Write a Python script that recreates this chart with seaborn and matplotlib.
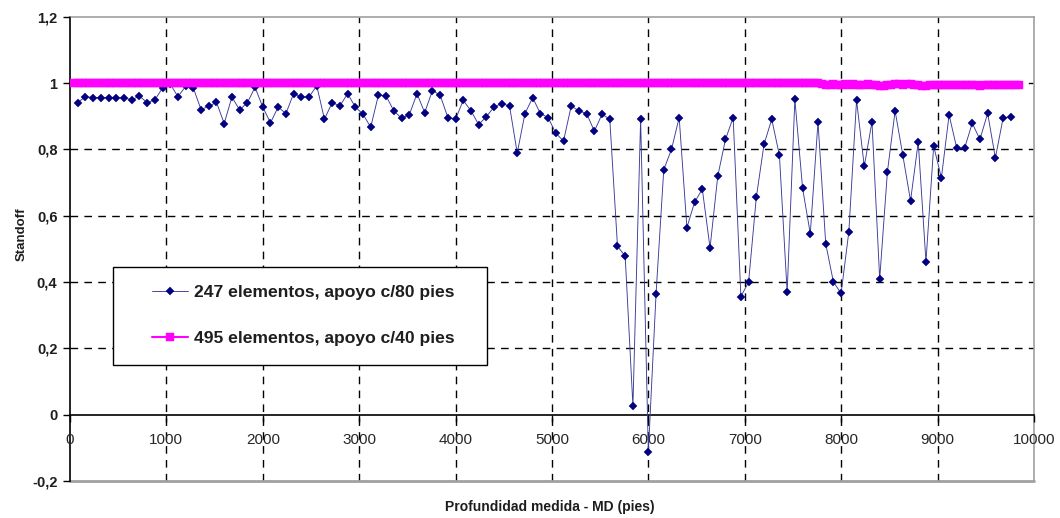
import matplotlib
matplotlib.use("Agg")
import matplotlib.pyplot as plt
import seaborn as sns
import pandas as pd
from matplotlib.patches import Rectangle

# ---------------- data ----------------
series_labels = ["247 elementos, apoyo c/80 pies", "495 elementos, apoyo c/40 pies"]

# standoff every 80 ft (first point at 80 ft)
standoff_80 = [
    0.941, 0.959, 0.956, 0.956, 0.956, 0.956, 0.956, 0.949, 0.961, 0.941,
    0.949, 0.985, 0.997, 0.959, 0.990, 0.985, 0.920, 0.930, 0.942, 0.878,
    0.958, 0.919, 0.941, 0.987, 0.928, 0.880, 0.928, 0.908, 0.968, 0.958,
    0.958, 0.992, 0.891, 0.941, 0.931, 0.968, 0.928, 0.906, 0.867, 0.964,
    0.961, 0.916, 0.894, 0.904, 0.968, 0.911, 0.977, 0.964, 0.896, 0.891,
    0.948, 0.916, 0.875, 0.899, 0.928, 0.938, 0.931, 0.789, 0.908, 0.956,
    0.908, 0.896, 0.849, 0.825, 0.931, 0.916, 0.908, 0.855, 0.906, 0.891,
    0.508, 0.478, 0.026, 0.891, -0.113, 0.364, 0.739, 0.800, 0.896, 0.564,
    0.641, 0.680, 0.503, 0.719, 0.830, 0.896, 0.356, 0.400, 0.655, 0.815,
    0.891, 0.782, 0.369, 0.951, 0.683, 0.546, 0.883, 0.516, 0.400, 0.366,
    0.552, 0.948, 0.749, 0.883, 0.409, 0.732, 0.916, 0.782, 0.645, 0.822,
    0.461, 0.810, 0.714, 0.904, 0.803, 0.803, 0.879, 0.830, 0.909, 0.774,
    0.894, 0.899,
]

# standoff every 40 ft (first point at 40 ft)
standoff_40 = [
    1.0, 1.0, 1.0, 1.0, 1.0, 1.0, 1.0, 1.0, 1.0, 1.0, 1.0, 1.0, 1.0, 1.0, 1.0,
    1.0, 1.0, 1.0, 1.0, 1.0, 1.0, 1.0, 1.0, 1.0, 1.0, 1.0, 1.0, 1.0, 1.0, 1.0,
    1.0, 1.0, 1.0, 1.0, 1.0, 1.0, 1.0, 1.0, 1.0, 1.0, 1.0, 1.0, 1.0, 1.0, 1.0,
    1.0, 1.0, 1.0, 1.0, 1.0, 1.0, 1.0, 1.0, 1.0, 1.0, 1.0, 1.0, 1.0, 1.0, 1.0,
    1.0, 1.0, 1.0, 1.0, 1.0, 1.0, 1.0, 1.0, 1.0, 1.0, 1.0, 1.0, 1.0, 1.0, 1.0,
    1.0, 1.0, 1.0, 1.0, 1.0, 1.0, 1.0, 1.0, 1.0, 1.0, 1.0, 1.0, 1.0, 1.0, 1.0,
    1.0, 1.0, 1.0, 1.0, 1.0, 1.0, 1.0, 1.0, 1.0, 1.0, 1.0, 1.0, 1.0, 1.0, 1.0,
    1.0, 1.0, 1.0, 1.0, 1.0, 1.0, 1.0, 1.0, 1.0, 1.0, 1.0, 1.0, 1.0, 1.0, 1.0,
    1.0, 1.0, 1.0, 1.0, 1.0, 1.0, 1.0, 1.0, 1.0, 1.0, 1.0, 1.0, 1.0, 1.0, 1.0,
    1.0, 1.0, 1.0, 1.0, 1.0, 1.0, 1.0, 1.0, 1.0, 1.0, 1.0, 1.0, 1.0, 1.0, 1.0,
    1.0, 1.0, 1.0, 1.0, 1.0, 1.0, 1.0, 1.0, 1.0, 1.0, 1.0, 1.0, 1.0, 1.0, 1.0,
    1.0, 1.0, 1.0, 1.0, 1.0, 1.0, 1.0, 1.0, 1.0, 1.0, 1.0, 1.0, 1.0, 1.0, 1.0,
    1.0, 1.0, 1.0, 1.0, 1.0, 1.0, 1.0, 1.0, 1.0, 1.0, 1.0, 1.0, 1.0, 1.0,
    0.996, 0.995, 0.995, 0.996, 0.995, 0.995, 0.996, 0.995, 0.996, 0.995,
    0.994, 0.995, 0.996, 0.995, 0.993, 0.992, 0.991, 0.994, 0.995, 0.997,
    0.996, 0.994, 0.996, 0.997, 0.993, 0.993, 0.992, 0.992, 0.993, 0.995,
    0.994, 0.994, 0.995, 0.994, 0.994, 0.995, 0.994, 0.994, 0.995, 0.994,
    0.993, 0.992, 0.994, 0.995, 0.994, 0.994, 0.994, 0.994, 0.993, 0.993,
    0.994, 0.993,
]

depth_80 = list(range(80, 80 * (len(standoff_80) + 1), 80))
depth_40 = list(range(40, 40 * (len(standoff_40) + 1), 40))

x_ticks = [0, 1000, 2000, 3000, 4000, 5000, 6000, 7000, 8000, 9000, 10000]
x_tick_labels = ["0", "1000", "2000", "3000", "4000", "5000", "6000", "7000", "8000", "9000", "10000"]
y_ticks = [-0.2, 0.0, 0.2, 0.4, 0.6, 0.8, 1.0, 1.2]
y_tick_labels = ["-0,2", "0", "0,2", "0,4", "0,6", "0,8", "1", "1,2"]
x_label = "Profundidad medida - MD (pies)"
y_label = "Standoff"

# ---------------- style ----------------
sns.set_theme(style="white")
plt.rcParams["font.family"] = ["Liberation Sans", "DejaVu Sans"]

BLUE = "#000080"
BLUE_LINE = "#3a3a98"
MAGENTA = "#FF00FF"
GRAY = "#A0A0A0"
TXT = "#1e1e1e"

fig = plt.figure(figsize=(10.6, 5.18), dpi=100)
fig.patch.set_facecolor("white")
ax = fig.add_axes([0.0660, 0.0714, 0.9094, 0.8963])
ax.set_facecolor("white")
ax.set_axisbelow(False)

df80 = pd.DataFrame({"depth": depth_80, "standoff": standoff_80})
df40 = pd.DataFrame({"depth": depth_40, "standoff": standoff_40})

sns.lineplot(data=df80, x="depth", y="standoff", ax=ax, estimator=None, sort=False,
             color=BLUE_LINE, linewidth=0.65, marker="D", markersize=4.3,
             markerfacecolor=BLUE, markeredgecolor=BLUE, markeredgewidth=0.3,
             label=series_labels[0], zorder=3)
sns.lineplot(data=df40, x="depth", y="standoff", ax=ax, estimator=None, sort=False,
             color=MAGENTA, linewidth=1.5, marker="s", markersize=5.5,
             markerfacecolor=MAGENTA, markeredgecolor=MAGENTA, markeredgewidth=0.3,
             label=series_labels[1], zorder=4)

ax.set_xlim(0, 10000)
ax.set_ylim(-0.2, 1.2)
ax.set_xticks(x_ticks)
ax.set_xticklabels(x_tick_labels)
ax.set_yticks(y_ticks)
ax.set_yticklabels(y_tick_labels)
for lbl in ax.get_xticklabels() + ax.get_yticklabels():
    lbl.set_fontweight("bold")
    lbl.set_fontsize(10.5)
    lbl.set_color(TXT)

# grid
for xv in x_ticks[1:-1]:
    ax.axvline(xv, color="black", lw=1.0, dashes=(5.5, 4.5), zorder=1)
for yv in y_ticks[2:-1]:
    ax.axhline(yv, color="black", lw=1.0, dashes=(5.5, 4.5), zorder=1)

# spines / frame
ax.spines["left"].set_color("black")
ax.spines["left"].set_linewidth(1.2)
ax.spines["bottom"].set_position(("data", 0))
ax.spines["bottom"].set_color("black")
ax.spines["bottom"].set_linewidth(1.2)
ax.spines["top"].set_color(GRAY)
ax.spines["top"].set_linewidth(1.2)
ax.spines["right"].set_color(GRAY)
ax.spines["right"].set_linewidth(1.2)
ax.axhline(-0.2, color=GRAY, lw=2.0, clip_on=False, zorder=2)

ax.tick_params(axis="x", direction="out", length=5, width=1, color="black", pad=8, bottom=True)
ax.tick_params(axis="y", direction="out", length=5, width=1, color="black", pad=4, left=True)

ax.set_xlabel("")
ax.set_ylabel("")
fig.text(0.519, 0.022, x_label, ha="center", va="center", fontsize=10, fontweight="bold", color=TXT)
fig.text(0.020, 0.548, y_label, ha="center", va="center", rotation=90, fontsize=9.5, fontweight="bold", color=TXT)

# legend box
rect = Rectangle((0.0446, 0.2498), 0.3880, 0.2111, transform=ax.transAxes,
                 facecolor="white", edgecolor="black", lw=1.0, zorder=5)
ax.add_patch(rect)
leg = ax.legend(loc="upper left", bbox_to_anchor=(0.0855, 0.423), frameon=False,
                borderpad=0, borderaxespad=0, handlelength=2.05, handletextpad=0.3,
                labelspacing=1.78, prop={"size": 12.6, "weight": "bold"})
leg.set_zorder(6)
for t in leg.get_texts():
    t.set_color(TXT)

fig.savefig("out.png", dpi=100, facecolor="white")
